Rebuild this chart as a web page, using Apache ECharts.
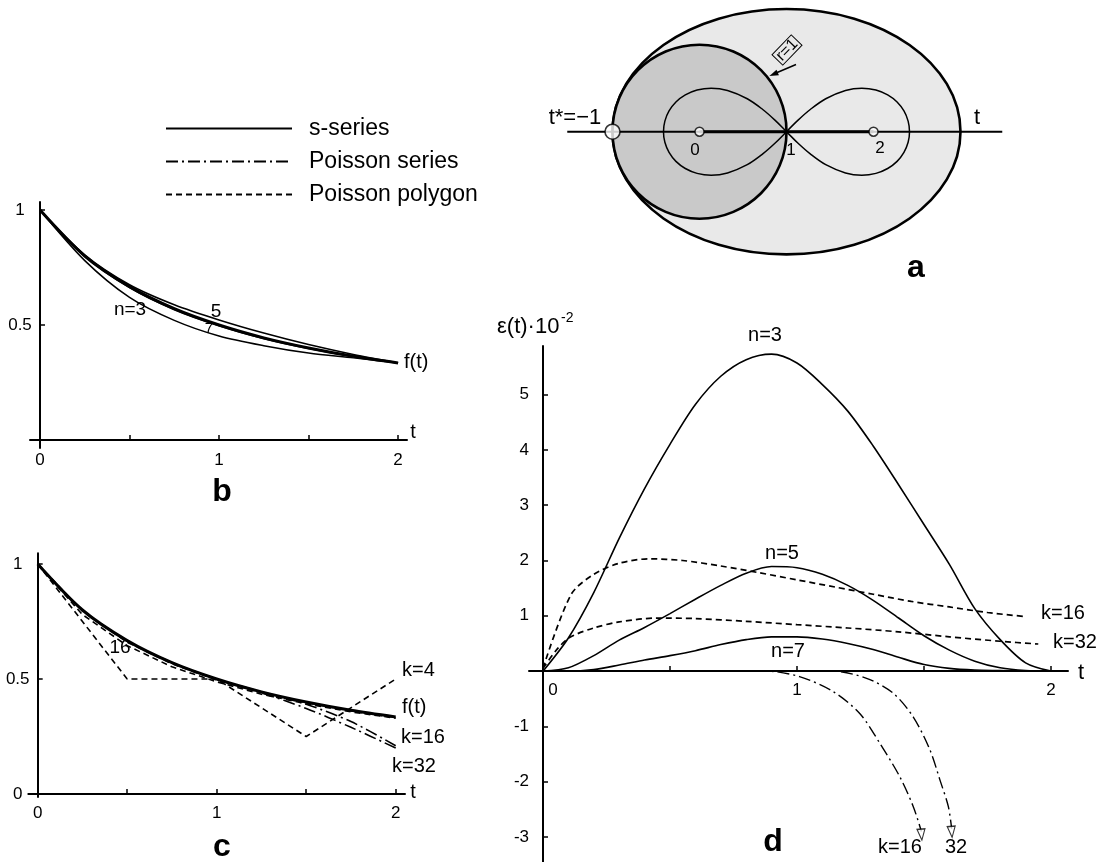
<!DOCTYPE html>
<html>
<head>
<meta charset="utf-8">
<title>s-series / Poisson series</title>
<script src="https://cdn.jsdelivr.net/npm/echarts@6/dist/echarts.min.js"></script>
<style>
  html, body { margin: 0; padding: 0; background: #fff; }
  #main { width: 1102px; height: 862px; }
</style>
</head>
<body>
<div id="main"></div>
<script>
// ---- panel a : oval, unit disc, lemniscate on the t axis
var ovalShape = [[1, 0, 2, 1.41]];          // cx, cy, rx, ry
var discShape = [[0, 0, 1, 1]];
var axisA = [[-1.52, 0], [3.48, 0]];
var axisA02 = [[0, 0], [2, 0]];
var pointBig = [[-1, 0]];
var pointSmall = [[0, 0], [2, 0]];
var lemniscate = [
  [1, 0], [1.13, 0.13], [1.273, 0.255], [1.451, 0.379], [1.678, 0.474], [1.866, 0.5],
  [2.028, 0.479], [2.163, 0.423], [2.271, 0.341], [2.35, 0.238], [2.398, 0.122], [2.414, 0],
  [2.398, -0.122], [2.35, -0.238], [2.271, -0.341], [2.163, -0.423], [2.028, -0.479],
  [1.866, -0.5], [1.678, -0.474], [1.451, -0.379], [1.273, -0.255], [1.13, -0.13], [1, 0],
  [0.87, 0.13], [0.727, 0.255], [0.549, 0.379], [0.322, 0.474], [0.134, 0.5],
  [-0.028, 0.479], [-0.163, 0.423], [-0.271, 0.341], [-0.35, 0.238], [-0.398, 0.122], [-0.414, 0],
  [-0.398, -0.122], [-0.35, -0.238], [-0.271, -0.341], [-0.163, -0.423], [-0.028, -0.479],
  [0.134, -0.5], [0.322, -0.474], [0.549, -0.379], [0.727, -0.255], [0.87, -0.13], [1, 0]
];

// ---- panel b : f(t) and s-series n=3,5,7
var tB = [0, 0.25, 0.5, 0.75, 1, 1.25, 1.5, 1.75, 2];
var fB = [1, 0.8, 0.667, 0.571, 0.5, 0.444, 0.4, 0.364, 0.335];
var n3B = [1, 0.78, 0.62, 0.52, 0.452, 0.41, 0.378, 0.357, 0.335];
var n5B = [1, 0.805, 0.675, 0.588, 0.522, 0.465, 0.415, 0.372, 0.335];
var n7B = [1, 0.798, 0.662, 0.566, 0.496, 0.44, 0.397, 0.362, 0.335];

// ---- panel c : polygons k=4,16,32 and Poisson series k=16,32
var tC = [0, 0.25, 0.5, 0.75, 1, 1.25, 1.5, 1.75, 2];
var fC = [1, 0.8, 0.667, 0.571, 0.5, 0.444, 0.4, 0.364, 0.335];
var tK4 = [0, 0.5, 1, 1.5, 2];
var polyK4 = [1, 0.5, 0.5, 0.25, 0.5];
var polyK16 = [1, 0.78, 0.645, 0.553, 0.488, 0.434, 0.392, 0.357, 0.33];
var polyK32 = [1, 0.795, 0.66, 0.566, 0.496, 0.441, 0.397, 0.361, 0.332];
var serK16 = [1, 0.8, 0.667, 0.571, 0.5, 0.44, 0.372, 0.29, 0.2];
var serK32 = [1, 0.8, 0.667, 0.571, 0.5, 0.444, 0.39, 0.315, 0.21];

// ---- panel d : errors eps(t)*1e-2
var tD = [0, 0.1, 0.2, 0.3, 0.4, 0.5, 0.6, 0.7, 0.8, 0.9, 1, 1.1, 1.2, 1.3, 1.4, 1.5, 1.6, 1.7, 1.8, 1.9, 2];
var errN3 = [0, 0.6, 1.42, 2.4, 3.3, 4.1, 4.82, 5.33, 5.63, 5.73, 5.57, 5.18, 4.7, 4.07, 3.37, 2.65, 1.93, 1.13, 0.57, 0.15, 0];
var errN5 = [0, 0.06, 0.28, 0.56, 0.79, 1.04, 1.3, 1.55, 1.77, 1.89, 1.87, 1.75, 1.55, 1.28, 0.96, 0.64, 0.38, 0.18, 0.06, 0.01, 0];
var errN7 = [0, 0, 0.03, 0.11, 0.2, 0.28, 0.37, 0.48, 0.57, 0.62, 0.62, 0.58, 0.5, 0.39, 0.25, 0.12, 0.05, 0.02, 0.01, 0, 0];
var tPolyK16 = [0, 0.11, 0.2, 0.3, 0.42, 0.55, 0.7, 0.85, 1, 1.15, 1.3, 1.45, 1.6, 1.75, 1.89];
var errPolyK16 = [0.05, 1.38, 1.75, 1.95, 2.03, 2, 1.9, 1.78, 1.65, 1.52, 1.39, 1.26, 1.16, 1.06, 0.99];
var tPolyK32 = [0, 0.06, 0.11, 0.2, 0.3, 0.45, 0.6, 0.8, 1, 1.2, 1.4, 1.6, 1.8, 1.95];
var errPolyK32 = [0.05, 0.42, 0.62, 0.78, 0.89, 0.96, 0.95, 0.9, 0.84, 0.78, 0.71, 0.62, 0.54, 0.49];
var tSerK16 = [0.75, 0.88, 1.01, 1.143, 1.248, 1.327, 1.405, 1.458, 1.49];
var errSerK16 = [0, 0, -0.1, -0.37, -0.77, -1.31, -1.91, -2.45, -2.9];
var tSerK32 = [1, 1.14, 1.274, 1.379, 1.458, 1.524, 1.563, 1.596, 1.609];
var errSerK32 = [0, 0, -0.13, -0.4, -0.83, -1.43, -1.97, -2.45, -2.85];

var FONT = '"Liberation Sans", Arial, Helvetica, sans-serif';
var DASH = [6, 4];
var DASHDOT = [12, 4, 2, 4];

function pairs(t, v) {
  return t.map(function (x, i) { return [x, v[i]]; });
}
function last(t, v) {
  return [[t[t.length - 1], v[v.length - 1]]];
}

function curve(name, grid, data, width, dash, smooth) {
  return {
    name: name, type: 'line', xAxisIndex: grid, yAxisIndex: grid,
    data: data, symbol: 'none', smooth: smooth === undefined ? 0.3 : smooth,
    itemStyle: { color: '#000' },
    lineStyle: { color: '#000', width: width, type: dash || 'solid' },
    z: 3
  };
}

function ellipseSeries(data, fill, z) {
  return {
    type: 'custom', xAxisIndex: 0, yAxisIndex: 0, data: data, clip: false, z: z,
    renderItem: function (params, api) {
      var c = api.coord([api.value(0), api.value(1)]);
      var s = api.size([api.value(2), api.value(3)]);
      return {
        type: 'ellipse',
        shape: { cx: c[0], cy: c[1], rx: s[0], ry: s[1] },
        style: { fill: fill, stroke: '#000', lineWidth: 2.6 }
      };
    }
  };
}

// axes sit on the other axis' zero via offset (from the grid edge)
function valueAxis(grid, min, max, offset, ticks, labels, margin, extra) {
  var ax = {
    type: 'value', gridIndex: grid, min: min, max: max, offset: offset,
    axisLine: { show: true, onZero: false, lineStyle: { color: '#000', width: 2 } },
    axisTick: { show: true, inside: true, length: 5, customValues: ticks, lineStyle: { color: '#000', width: 1.5 } },
    axisLabel: { customValues: labels, color: '#000', fontSize: 17, fontFamily: FONT, margin: margin },
    splitLine: { show: false }
  };
  if (extra) {
    ax.axisLabel = Object.assign(ax.axisLabel, extra);
  }
  return ax;
}

function txt(x, y, s, size, opt) {
  opt = opt || {};
  var align = opt.align || 'center';
  var style = {
    text: s, fill: '#000',
    font: (opt.bold ? 'bold ' : '') + size + 'px ' + FONT,
    align: align, textAlign: align,
    verticalAlign: 'middle', textVerticalAlign: 'middle'
  };
  if (opt.box) {
    style.borderColor = '#000';
    style.borderWidth = 1;
    style.padding = [0, 2, -1, 2];
  }
  return { type: 'text', x: x, y: y, silent: true, z: 60, rotation: opt.rotation || 0, style: style };
}

var chart = echarts.init(document.getElementById('main'));

var gridBase = { outerBoundsMode: 'none', containLabel: false };

var option = {
  animation: false,
  backgroundColor: '#fff',
  legend: {
    left: 160, top: 112, orient: 'vertical', selectedMode: false,
    itemWidth: 126, itemHeight: 22, itemGap: 10,
    data: ['s-series', 'Poisson series', 'Poisson polygon'],
    itemStyle: { opacity: 0 },
    lineStyle: { width: 2 },
    textStyle: { fontSize: 23, color: '#000', fontFamily: FONT, padding: [0, 0, 0, 12] }
  },
  grid: [
    Object.assign({ left: 560.3, top: 1.2, width: 452.4, height: 261 }, gridBase),
    Object.assign({ left: 30, top: 202, width: 377, height: 246 }, gridBase),
    Object.assign({ left: 28.3, top: 553.3, width: 376.7, height: 243.7 }, gridBase),
    Object.assign({ left: 529, top: 346, width: 539, height: 516 }, gridBase)
  ],
  xAxis: [
    { type: 'value', gridIndex: 0, min: -1.6, max: 3.6, show: false },
    valueAxis(1, -0.056, 2.05, -8, [0.5, 1, 1.5, 2], [0, 1, 2], 12),
    valueAxis(2, -0.0525, 2.052, -3, [0.5, 1, 1.5, 2], [0, 1, 2], 11),
    valueAxis(3, -0.055, 2.067, -191, [0.5, 1, 1.5, 2], [0, 1, 2], 11, {
      formatter: function (v) { return v === 0 ? '{z|0}' : String(v); },
      rich: { z: { padding: [0, 0, 0, 20], fontSize: 17, color: '#000', fontFamily: FONT } }
    })
  ],
  yAxis: [
    { type: 'value', gridIndex: 0, min: -1.5, max: 1.5, show: false },
    valueAxis(1, -0.035, 1.035, -10, [0.5, 1], [0.5, 1], 20, { align: 'center' }),
    valueAxis(2, -0.013, 1.0465, -9.4, [0.5, 1], [0, 0.5, 1], 20, { align: 'center' }),
    valueAxis(3, -3.45, 5.877, -14, [-3, -2, -1, 1, 2, 3, 4, 5], [-3, -2, -1, 1, 2, 3, 4, 5], 14)
  ],
  series: [
    // a
    ellipseSeries(ovalShape, '#e9e9e9', 1),
    ellipseSeries(discShape, '#c9c9c9', 2),
    { type: 'line', xAxisIndex: 0, yAxisIndex: 0, data: lemniscate, symbol: 'none', smooth: 0.35,
      lineStyle: { color: '#000', width: 1.5 }, z: 3 },
    { type: 'line', xAxisIndex: 0, yAxisIndex: 0, data: axisA, symbol: 'none',
      lineStyle: { color: '#000', width: 2 }, z: 4 },
    { type: 'line', xAxisIndex: 0, yAxisIndex: 0, data: axisA02, symbol: 'none',
      lineStyle: { color: '#000', width: 3 }, z: 4 },
    { type: 'scatter', xAxisIndex: 0, yAxisIndex: 0, data: pointBig, symbol: 'circle', symbolSize: 15,
      itemStyle: { color: '#fff', borderColor: '#000', borderWidth: 1.6 }, z: 5 },
    { type: 'scatter', xAxisIndex: 0, yAxisIndex: 0, data: pointSmall, symbol: 'circle', symbolSize: 9,
      itemStyle: { color: '#fff', borderColor: '#000', borderWidth: 1.5 }, z: 5 },

    // b
    curve('s-series', 1, pairs(tB, n3B), 1.5),
    curve('s-series', 1, pairs(tB, n5B), 1.5),
    curve('s-series', 1, pairs(tB, n7B), 1.3),
    curve('f(t)', 1, pairs(tB, fB), 3),

    // c
    curve('Poisson polygon', 2, pairs(tK4, polyK4), 1.6, DASH, false),
    curve('Poisson polygon', 2, pairs(tC, polyK16), 1.6, DASH, false),
    curve('Poisson polygon', 2, pairs(tC, polyK32), 1.6, DASH, false),
    curve('Poisson series', 2, pairs(tC, serK16), 1.6, DASHDOT),
    curve('Poisson series', 2, pairs(tC, serK32), 1.6, DASHDOT),
    curve('f(t)', 2, pairs(tC, fC), 3),

    // d
    curve('s-series', 3, pairs(tD, errN3), 1.6),
    curve('s-series', 3, pairs(tD, errN5), 1.6),
    curve('s-series', 3, pairs(tD, errN7), 1.6),
    curve('Poisson polygon', 3, pairs(tPolyK16, errPolyK16), 1.7, DASH),
    curve('Poisson polygon', 3, pairs(tPolyK32, errPolyK32), 1.7, DASH),
    curve('Poisson series', 3, pairs(tSerK16, errSerK16), 1.4, DASHDOT),
    curve('Poisson series', 3, pairs(tSerK32, errSerK32), 1.4, DASHDOT),
    { type: 'scatter', xAxisIndex: 3, yAxisIndex: 3,
      data: last(tSerK16, errSerK16).concat(last(tSerK32, errSerK32)),
      symbol: 'triangle', symbolRotate: 185, symbolSize: [8, 11], symbolOffset: [0, 3],
      itemStyle: { color: '#fff', borderColor: '#000', borderWidth: 1.2 }, z: 6 }
  ],
  graphic: [
    // a
    txt(575, 118, 't*=\u22121', 22),
    txt(695, 150, '0', 17),
    txt(791, 150, '1', 17),
    txt(880, 148, '2', 17),
    txt(977, 118, 't', 22),
    txt(916, 268, 'a', 32, { bold: true }),
    txt(787, 50, 'r=1', 16, { rotation: 0.8, box: true }),
    { type: 'line', silent: true, z: 60, shape: { x1: 796, y1: 64.5, x2: 776, y2: 73 },
      style: { stroke: '#000', lineWidth: 1.5 } },
    { type: 'polygon', silent: true, z: 60, shape: { points: [[769.4, 76], [778.9, 75.3], [776.5, 69.7]] },
      style: { fill: '#000' } },

    // b
    txt(130, 310, 'n=3', 19),
    txt(216, 312, '5', 19),
    txt(209, 329, '7', 15),
    txt(404, 362, 'f(t)', 20, { align: 'left' }),
    txt(413, 432, 't', 20),
    txt(222, 492, 'b', 32, { bold: true }),

    // c
    txt(120, 648, '16', 19),
    txt(402, 670, 'k=4', 20, { align: 'left' }),
    txt(402, 707, 'f(t)', 20, { align: 'left' }),
    txt(401, 737, 'k=16', 20, { align: 'left' }),
    txt(392, 766, 'k=32', 20, { align: 'left' }),
    txt(413, 792, 't', 20),
    txt(222, 847, 'c', 32, { bold: true }),

    // d
    txt(497, 327, '\u03b5(t)\u00b710', 22, { align: 'left' }),
    txt(561, 318, '-2', 14, { align: 'left' }),
    txt(765, 335, 'n=3', 20),
    txt(782, 553, 'n=5', 20),
    txt(788, 651, 'n=7', 20),
    txt(1063, 613, 'k=16', 20),
    txt(1075, 642, 'k=32', 20),
    txt(1081, 673, 't', 22),
    txt(900, 847, 'k=16', 20),
    txt(956, 847, '32', 20),
    txt(773, 842, 'd', 32, { bold: true })
  ]
};

chart.setOption(option);
</script>
</body>
</html>
